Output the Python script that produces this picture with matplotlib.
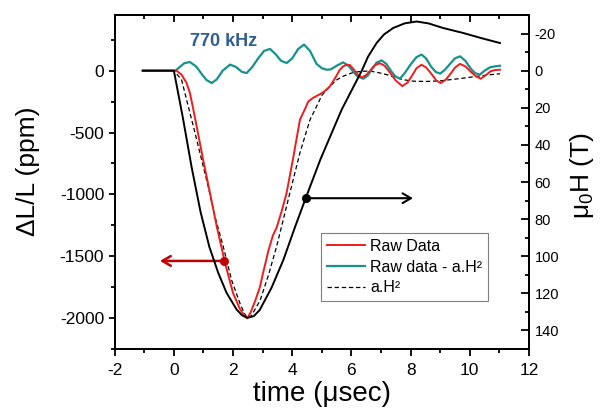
import matplotlib
matplotlib.use("Agg")
import matplotlib.pyplot as plt
from matplotlib.ticker import MultipleLocator
from matplotlib.lines import Line2D

plt.rcParams['font.family'] = ['Liberation Sans', 'DejaVu Sans']
plt.rcParams['mathtext.fontset'] = 'custom'
plt.rcParams['mathtext.rm'] = 'Liberation Sans'
plt.rcParams['mathtext.default'] = 'regular'
plt.rcParams['axes.unicode_minus'] = False

# ---- data ----
field_t = [-1.05, 0.0, 0.3, 0.6, 0.9, 1.2, 1.5, 1.78, 2.12, 2.3, 2.48, 2.7, 2.9, 3.3,
           3.7, 4.1, 4.46, 4.95, 5.67, 6.35, 6.56, 6.85, 7.1, 7.41, 7.8, 8.2, 8.6, 9.1,
           9.78, 10.4, 11.02]
field_H = [0, 0, 25, 52, 76, 95, 109, 119.7, 128.7, 131.8, 133.2, 132.3, 129, 117,
           102, 84, 68.5, 47.9, 21, 0, -7.5, -14.9, -19.5, -23, -25.5, -26.5, -25.5, -23,
           -20.3, -17.5, -14.9]

raw_t = [-1.05, 0.09, 0.26, 0.43, 0.54, 0.66, 0.77, 0.99, 1.22, 1.45, 1.73, 2.0, 2.23,
         2.38, 2.48, 2.6, 2.75, 2.91, 3.01, 3.2, 3.35, 3.47, 3.65, 3.81, 4.02, 4.26,
         4.45, 4.54, 4.7, 4.94, 5.1, 5.27, 5.45, 5.6, 5.72, 5.85, 5.95, 6.08, 6.2,
         6.35, 6.5, 6.65, 6.8, 6.96, 7.12, 7.3, 7.5, 7.72, 7.9, 8.05, 8.2, 8.37, 8.53,
         8.7, 8.87, 9.02, 9.18, 9.35, 9.5, 9.67, 9.85, 10.02, 10.2, 10.37, 10.55,
         10.7, 10.85, 11.02]
raw_v = [0, 0, -32, -100, -178, -316, -451, -721, -988, -1261, -1555, -1798, -1925,
         -1980, -2002, -1950, -1860, -1747, -1640, -1450, -1330, -1270, -1130, -988,
         -721, -397, -300, -250, -220, -190, -165, -127, -60, 5, 35, 48, 45, 10, -30,
         -55, -35, 5, 45, 60, 40, -15, -80, -125, -95, -40, 20, 48, 25,
         -25, -80, -100, -75, -25, 25, 55, 35, -5, -45, -65, -35,
         -5, 5, 8]

diff_t = [-1.05, 0.05, 0.2, 0.35, 0.54, 0.75, 0.95, 1.1, 1.28, 1.45, 1.65, 1.9, 2.1,
          2.3, 2.46, 2.65, 2.85, 3.05, 3.25, 3.45, 3.62, 3.81, 4.0, 4.2, 4.4, 4.6,
          4.82, 5.0, 5.16, 5.3, 5.5, 5.72, 5.9, 6.05, 6.2, 6.4, 6.55, 6.7, 6.85, 7.02,
          7.18, 7.33, 7.48, 7.64, 7.8, 8.0, 8.2, 8.37, 8.52, 8.7, 8.85, 9.0, 9.17,
          9.35, 9.5, 9.67, 9.85, 10.02, 10.18, 10.34, 10.5, 10.68, 10.85, 11.02]
diff_v = [0, 0, 30, 60, 70, 35, -30, -75, -100, -70, 0, 49, 30,
          -10, -19, 30, 100, 160, 176, 130, 80, 62, 100, 175, 211, 160,
          55, 20, 8, 10, 40, 67, 40, -5, -45, -65, -40, 15, 65, 83,
          55, 0, -45, -65, -20, 50, 110, 130, 100, 30, -10, -24, 10,
          60, 100, 116, 80, 20, -20, -32, 0, 27, 35, 40]

fit_t = [-1.05, 0.0, 0.26, 0.43, 0.66, 0.88, 1.16, 1.39, 1.67, 1.95, 2.23, 2.38, 2.48,
         2.62, 2.91, 3.2, 3.47, 3.92, 4.26, 4.6, 4.82, 5.0, 5.27, 5.5, 5.72, 6.05,
         6.35, 6.62, 6.9, 7.19, 7.5, 7.75, 8.1, 8.54, 9.0, 9.33, 9.8, 10.23, 10.6, 11.02]
fit_v = [0, 0, -73, -235, -451, -664, -937, -1180, -1423, -1692, -1879, -1960, -2000,
         -1980, -1860, -1650, -1423, -988, -664, -397, -290, -200, -127, -75, -45, -15,
         -5, -3, -15, -32, -55, -73, -85, -87, -82, -73, -60, -46, -35, -25]

legend_labels = ['Raw Data', 'Raw data - a.H²', 'a.H²']

RED = '#ee1c1c'
TEAL = '#17918c'
DARKRED = '#c00000'

fig = plt.figure(figsize=(6.02, 4.08), dpi=100)
ax = fig.add_axes([0.1905, 0.1446, 0.6882, 0.8186])
ax2 = ax.twinx()

ax.plot(fit_t, fit_v, color='black', lw=0.9, ls=(0, (3.5, 2.2)), zorder=3)
ax.plot(diff_t, diff_v, color=TEAL, lw=1.6, zorder=4)
ax.plot(raw_t, raw_v, color=RED, lw=1.4, zorder=5)
ax2.plot(field_t, field_H, color='black', lw=1.4)

ax.set_xlim(-2, 12)
ax.set_ylim(-2250, 450)
ax2.set_ylim(150, -30)

# arrows
ax.annotate('', xy=(-0.47, -1538), xytext=(1.69, -1538),
            arrowprops=dict(arrowstyle='->,head_length=0.6,head_width=0.35',
                            color=DARKRED, lw=1.8, shrinkA=0, shrinkB=0))
ax.plot([1.69], [-1538], 'o', color=DARKRED, ms=5.5, zorder=6)
ax.annotate('', xy=(8.08, -1031), xytext=(4.46, -1031),
            arrowprops=dict(arrowstyle='->,head_length=0.6,head_width=0.35',
                            color='black', lw=1.5, shrinkA=0, shrinkB=0))
ax.plot([4.46], [-1031], 'o', color='black', ms=5.5, zorder=6)

ax.text(1.69, 237, '770 kHz', ha='center', va='center', fontsize=13,
        fontweight='bold', color='#2e5d8e')

# ticks
ax.xaxis.set_major_locator(MultipleLocator(2))
ax.xaxis.set_minor_locator(MultipleLocator(1))
ax.yaxis.set_major_locator(MultipleLocator(500))
ax.yaxis.set_minor_locator(MultipleLocator(250))
ax2.yaxis.set_major_locator(MultipleLocator(20))
ax2.yaxis.set_minor_locator(MultipleLocator(10))

ax.tick_params(axis='x', which='major', direction='out', length=5, width=1.3,
               labelsize=12.5, pad=5, top=False)
ax.tick_params(axis='x', which='minor', direction='out', length=3, width=1.3, top=False)
ax.tick_params(axis='y', which='major', direction='out', length=4.6, width=1.3,
               labelsize=12.5, pad=3, right=False)
ax.tick_params(axis='y', which='minor', direction='out', length=3, width=1.3, right=False)
ax2.tick_params(axis='y', which='major', direction='in', length=5.5, width=1.3,
                labelsize=10.5, pad=4)
ax2.tick_params(axis='y', which='minor', direction='in', length=3, width=1.3)

top = ax.secondary_xaxis('top')
top.xaxis.set_major_locator(MultipleLocator(2))
top.xaxis.set_minor_locator(MultipleLocator(1))
top.tick_params(axis='x', which='major', direction='in', length=5, width=1.3, labeltop=False)
top.tick_params(axis='x', which='minor', direction='in', length=3, width=1.3)
top.spines['top'].set_linewidth(1.4)

for a in (ax, ax2):
    for s in a.spines.values():
        s.set_linewidth(1.4)

ax.set_xlabel('time (μsec)', fontsize=20, labelpad=2)
ax.set_ylabel('ΔL/L (ppm)', fontsize=19)
ax.yaxis.set_label_coords(-0.18, 0.533)
ax2.set_ylabel('μ$_0$H (T)', fontsize=19)
ax2.yaxis.set_label_coords(1.094, 0.52)

handles = [Line2D([], [], color=RED, lw=1.4),
           Line2D([], [], color=TEAL, lw=1.6),
           Line2D([], [], color='black', lw=0.9, ls=(0, (3.5, 2.2)))]
leg = ax2.legend(handles, legend_labels, loc='upper left',
                 bbox_to_anchor=(0.534, 0.428), bbox_transform=fig.transFigure,
                 fancybox=False, edgecolor='#7f7f7f', framealpha=1, fontsize=11.5,
                 borderaxespad=0, handlelength=2.4, handletextpad=0.3,
                 labelspacing=0.35, borderpad=0.35)
leg.get_frame().set_linewidth(0.8)

fig.savefig('out.png', dpi=100)
